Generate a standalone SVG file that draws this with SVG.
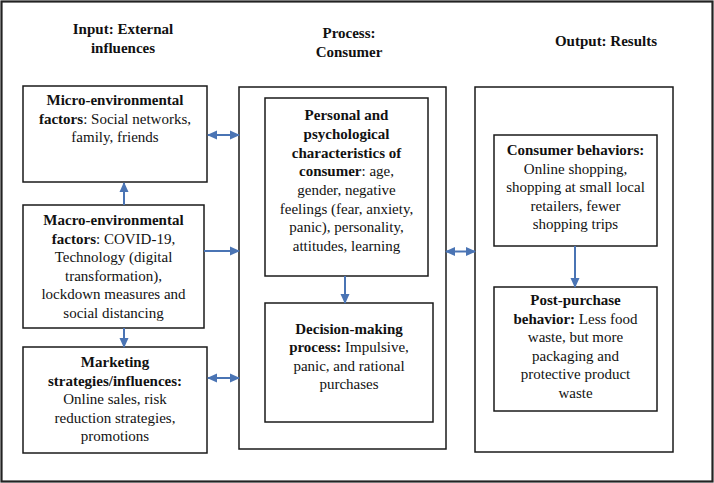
<svg xmlns="http://www.w3.org/2000/svg" width="714" height="483" viewBox="0 0 714 483">
<style>
  .box { fill: #fff; stroke: #1a1a1a; stroke-width: 1.5; }
  .frame { fill: #fff; stroke: #222; stroke-width: 2.2; }
  .t { font-family: "Liberation Serif", "Times New Roman", serif; font-size: 15px; fill: #111; text-anchor: middle; }
  .b { font-weight: bold; }
  .c { stroke: #4a74b4; stroke-width: 2; fill: none; }
</style>
<defs>
  <marker id="ah" markerUnits="userSpaceOnUse" markerWidth="10" markerHeight="10" viewBox="0 0 10 10" refX="9" refY="5" orient="auto">
    <path d="M0,0.5 L10,5 L0,9.5 Z" fill="#4a74b4"/>
  </marker>
  <marker id="as" markerUnits="userSpaceOnUse" markerWidth="10" markerHeight="10" viewBox="0 0 10 10" refX="1" refY="5" orient="auto">
    <path d="M10,0.5 L0,5 L10,9.5 Z" fill="#4a74b4"/>
  </marker>
</defs>
<rect class="frame" x="1.5" y="1.5" width="711" height="480"/>

<g id="titles">
  <text class="t b" x="123" y="34">Input: External</text>
  <text class="t b" x="123" y="53">influences</text>
  <text class="t b" x="349" y="38">Process:</text>
  <text class="t b" x="349" y="57">Consumer</text>
  <text class="t b" x="606" y="46">Output: Results</text>
</g>

<g id="process">
  <rect class="box" x="239" y="87" width="207" height="362"/>
</g>
<g id="output">
  <rect class="box" x="475" y="87" width="198" height="365"/>
</g>

<g id="micro">
  <rect class="box" x="23" y="86" width="184" height="96"/>
  <text class="t b" x="115" y="105">Micro-environmental</text>
  <text class="t" x="115" y="123.5"><tspan class="b">factors</tspan>: Social networks,</text>
  <text class="t" x="115" y="142">family, friends</text>
</g>

<g id="macro">
  <rect class="box" x="23" y="205" width="181" height="123"/>
  <text class="t b" x="113.5" y="225">Macro-environmental</text>
  <text class="t" x="113.5" y="243.5"><tspan class="b">factors</tspan>: COVID-19,</text>
  <text class="t" x="113.5" y="262">Technology (digital</text>
  <text class="t" x="113.5" y="280.5">transformation),</text>
  <text class="t" x="113.5" y="299">lockdown measures and</text>
  <text class="t" x="113.5" y="317.5">social distancing</text>
</g>

<g id="marketing">
  <rect class="box" x="23" y="347" width="184" height="106"/>
  <text class="t b" x="115" y="367">Marketing</text>
  <text class="t b" x="115" y="385.5">strategies/influences:</text>
  <text class="t" x="115" y="404">Online sales, risk</text>
  <text class="t" x="115" y="422.5">reduction strategies,</text>
  <text class="t" x="115" y="441">promotions</text>
</g>

<g id="personal">
  <rect class="box" x="265" y="98" width="163" height="178"/>
  <text class="t b" x="346.5" y="120">Personal and</text>
  <text class="t b" x="346.5" y="139">psychological</text>
  <text class="t b" x="346.5" y="157.5">characteristics of</text>
  <text class="t" x="346.5" y="176"><tspan class="b">consumer</tspan>: age,</text>
  <text class="t" x="346.5" y="195">gender, negative</text>
  <text class="t" x="346.5" y="213.5">feelings (fear, anxiety,</text>
  <text class="t" x="346.5" y="232">panic), personality,</text>
  <text class="t" x="346.5" y="250.5">attitudes, learning</text>
</g>

<g id="decision">
  <rect class="box" x="265" y="303" width="168" height="119"/>
  <text class="t b" x="349" y="333.5">Decision-making</text>
  <text class="t" x="349" y="352"><tspan class="b">process:</tspan> Impulsive,</text>
  <text class="t" x="349" y="370.5">panic, and rational</text>
  <text class="t" x="349" y="389">purchases</text>
</g>

<g id="consumer-behaviors">
  <rect class="box" x="494" y="135" width="163" height="111"/>
  <text class="t b" x="575.5" y="155">Consumer behaviors:</text>
  <text class="t" x="575.5" y="173.5">Online shopping,</text>
  <text class="t" x="575.5" y="192">shopping at small local</text>
  <text class="t" x="575.5" y="210.5">retailers, fewer</text>
  <text class="t" x="575.5" y="229">shopping trips</text>
</g>

<g id="post-purchase">
  <rect class="box" x="494" y="287" width="163" height="124"/>
  <text class="t b" x="575.5" y="305">Post-purchase</text>
  <text class="t" x="575.5" y="323.5"><tspan class="b">behavior:</tspan> Less food</text>
  <text class="t" x="575.5" y="342">waste, but more</text>
  <text class="t" x="575.5" y="360.5">packaging and</text>
  <text class="t" x="575.5" y="379">protective product</text>
  <text class="t" x="575.5" y="397.5">waste</text>
</g>

<g id="connectors">
  <line class="c" x1="208" y1="135" x2="239" y2="135" marker-start="url(#as)" marker-end="url(#ah)"/>
  <line class="c" x1="124" y1="205" x2="124" y2="183" marker-end="url(#ah)"/>
  <line class="c" x1="204" y1="251" x2="239" y2="251" marker-end="url(#ah)"/>
  <line class="c" x1="124" y1="328" x2="124" y2="347" marker-end="url(#ah)"/>
  <line class="c" x1="208" y1="378" x2="239" y2="378" marker-start="url(#as)" marker-end="url(#ah)"/>
  <line class="c" x1="345" y1="276" x2="345" y2="303" marker-end="url(#ah)"/>
  <line class="c" x1="446" y1="251.5" x2="475" y2="251.5" marker-start="url(#as)" marker-end="url(#ah)"/>
  <line class="c" x1="575" y1="246" x2="575" y2="287" marker-end="url(#ah)"/>
</g>
</svg>
